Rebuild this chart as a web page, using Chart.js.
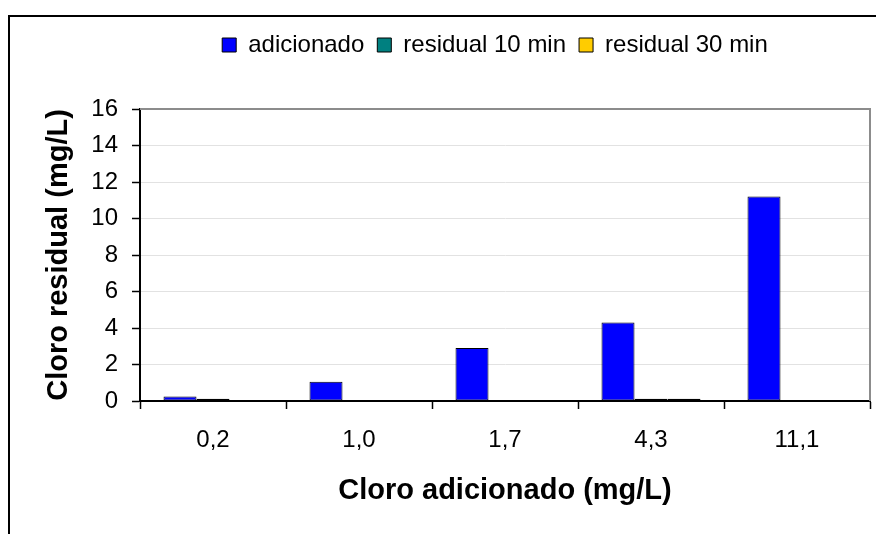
<!DOCTYPE html>
<html>
<head>
<meta charset="utf-8">
<script src="https://cdn.jsdelivr.net/npm/chart.js@4/dist/chart.umd.min.js"></script>
<style>
  html, body { margin: 0; padding: 0; background: #fff; }
  #wrap { width: 876px; height: 534px; position: relative; }
</style>
</head>
<body>
<div id="wrap"><canvas id="cloroChart"></canvas></div>
<script>
// Data
const categories = ["0,2", "1,0", "1,7", "4,3", "11,1"];
const adicionado = [0.25, 1.05, 2.9, 4.3, 11.2];
const residual10 = [0.13, 0, 0, 0.13, 0];
const residual30 = [0, 0, 0, 0.13, 0];
const yTicks = [0, 2, 4, 6, 8, 10, 12, 14, 16];

const FONT = "'Liberation Sans', Arial, sans-serif";

// frame + gray plot-area border, legend shift
const framePlugin = {
  id: "frame",
  beforeInit(chart) {
    const fitValue = chart.legend.fit;
    chart.legend.fit = function fit() {
      fitValue.bind(chart.legend)();
      this.height = 89;
    };
  },
  afterLayout(chart) {
    chart.legend.left += 60;
    chart.legend.right += 60;
  },
  beforeDraw(chart) {
    const ctx = chart.ctx;
    ctx.save();
    ctx.strokeStyle = "#000";
    ctx.lineWidth = 2;
    ctx.beginPath();
    ctx.moveTo(9, 534);
    ctx.lineTo(9, 16);
    ctx.lineTo(876, 16);
    ctx.stroke();
    ctx.restore();
  },
  beforeDatasetsDraw(chart) {
    const { ctx, chartArea: a } = chart;
    ctx.save();
    ctx.strokeStyle = "#8c8c8c";
    ctx.lineWidth = 2;
    ctx.beginPath();
    ctx.moveTo(a.left, a.top);
    ctx.lineTo(a.right, a.top);
    ctx.lineTo(a.right, a.bottom);
    ctx.stroke();
    ctx.restore();
  },
};

const ctx = document.getElementById("cloroChart").getContext("2d");
const chart = new Chart(ctx, {
  type: "bar",
  data: {
    labels: categories,
    datasets: [
      {
        label: "adicionado",
        data: adicionado,
        backgroundColor: "#0000ff",
      },
      {
        label: "residual 10 min",
        data: residual10,
        backgroundColor: "#008080",
      },
      {
        label: "residual 30 min",
        data: residual30,
        backgroundColor: "#ffcc00",
      },
    ],
  },
  options: {
    responsive: true,
    maintainAspectRatio: false,
    animation: false,
    categoryPercentage: 0.678,
    barPercentage: 1,
    datasets: {
      bar: { borderColor: "#000", borderWidth: 1, borderSkipped: false },
    },
    layout: { padding: { top: 20, right: 6, left: 0, bottom: 0 } },
    plugins: {
      tooltip: { enabled: false },
      legend: {
        position: "top",
        labels: {
          font: { family: FONT, size: 24 },
          color: "#000",
          boxWidth: 14,
          boxHeight: 14,
          padding: 13,
        },
      },
    },
    scales: {
      x: {
        offset: true,
        afterFit(scale) {
          scale.height = 133;
        },
        grid: {
          display: true,
          offset: true,
          drawOnChartArea: false,
          drawTicks: true,
          tickLength: 8,
          tickColor: "#000",
          tickWidth: 1.5,
        },
        border: { color: "#000", width: 2 },
        ticks: {
          font: { family: FONT, size: 24 },
          color: "#000",
          padding: 17,
          maxRotation: 0,
        },
        title: {
          display: true,
          text: "Cloro adicionado (mg/L)",
          font: { family: FONT, size: 29, weight: "bold" },
          color: "#000",
          padding: { top: 0, bottom: 26 },
        },
      },
      y: {
        min: 0,
        max: 16,
        afterFit(scale) {
          scale.width = 140;
        },
        afterBuildTicks(scale) {
          scale.ticks = yTicks.map((v) => ({ value: v }));
        },
        grid: {
          color: "#e2e2e2",
          lineWidth: 1,
          tickLength: 8,
          tickColor: "#000",
          tickWidth: 1.5,
        },
        border: { color: "#000", width: 2 },
        ticks: {
          font: { family: FONT, size: 24 },
          color: "#000",
          padding: 14,
        },
        title: {
          display: true,
          text: "Cloro residual (mg/L)",
          font: { family: FONT, size: 29, weight: "bold" },
          color: "#000",
          padding: { top: 42, bottom: 0 },
        },
      },
    },
  },
  plugins: [framePlugin],
});
</script>
</body>
</html>
